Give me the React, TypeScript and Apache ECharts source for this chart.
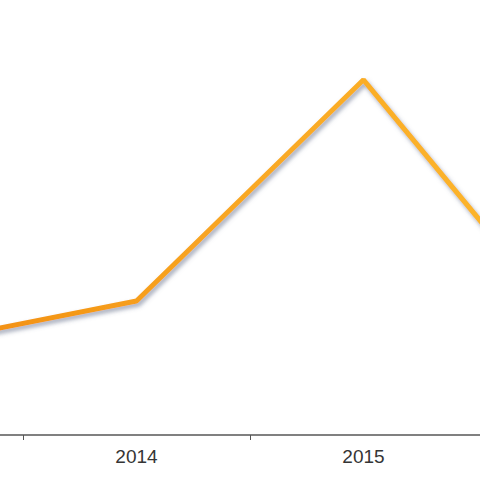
import React, { useEffect, useRef } from "react";
import * as echarts from "echarts";

const categories = ["2013", "2014", "2015", "2016"];
const values = [22.3, 33.5, 88.8, 20.3];
const visibleLabels = ["2014", "2015"];

export default function App() {
  const ref = useRef<HTMLDivElement>(null);
  useEffect(() => {
    const chart = echarts.init(ref.current!, null, { renderer: "svg" });
    chart.setOption({
      animation: false,
      backgroundColor: "#ffffff",
      grid: {
        left: -204,
        width: 908,
        top: 35,
        bottom: 45,
        containLabel: false,
        outerBoundsMode: "none",
      },
      xAxis: {
        type: "category",
        data: categories,
        boundaryGap: true,
        axisLine: { lineStyle: { color: "#808080", width: 2 } },
        axisTick: { show: true, length: 5, lineStyle: { color: "#555", width: 1 } },
        axisLabel: {
          color: "#353535",
          fontSize: 19,
          fontFamily: "Liberation Sans, Arial, sans-serif",
          margin: 12,
          interval: (_i: number, v: string) => visibleLabels.indexOf(v) >= 0,
        },
      },
      yAxis: {
        type: "value",
        min: 0,
        max: 100,
        show: false,
        splitLine: { show: false },
      },
      series: [
        {
          type: "line",
          data: values,
          symbol: "none",
          lineStyle: {
            width: 5,
            color: new echarts.graphic.LinearGradient(0, 0, 1, 0, [
              { offset: 0, color: "#f08a0c" },
              { offset: 0.5, color: "#f9a824" },
              { offset: 1, color: "#fdb92e" },
            ]),
            shadowColor: "rgba(90, 100, 130, 0.55)",
            shadowBlur: 4,
            shadowOffsetX: 2,
            shadowOffsetY: 3,
          },
        },
      ],
    });
    return () => chart.dispose();
  }, []);
  return <div ref={ref} style={{ width: 480, height: 480, position: "fixed", left: 0, top: 0 }} />;
}
